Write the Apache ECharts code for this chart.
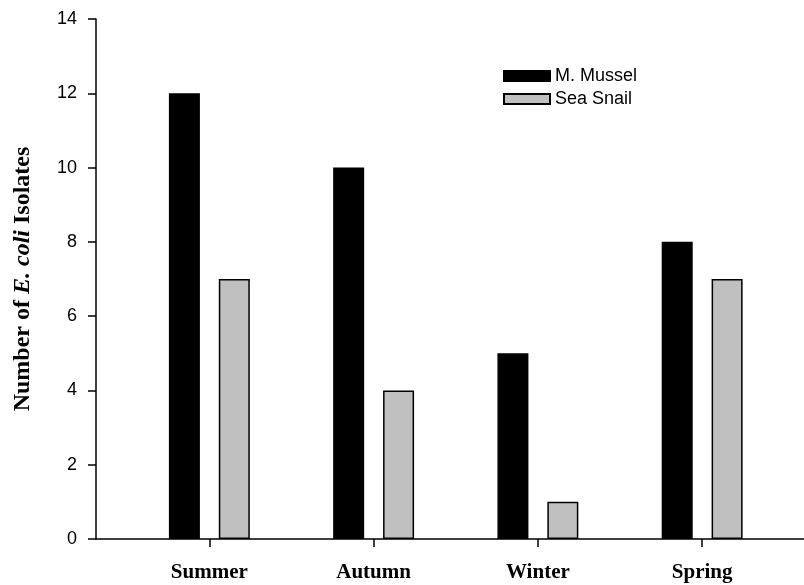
<!DOCTYPE html>
<html>
<head>
<meta charset="utf-8">
<script src="https://cdn.jsdelivr.net/npm/echarts@6/dist/echarts.min.js"></script>
<style>html,body{margin:0;padding:0;background:#fff}#c{width:804px;height:585px}</style>
</head>
<body>
<div id="c"></div>
<script>
const categories = ['Summer', 'Autumn', 'Winter', 'Spring'];
const categoryPositions = [1, 2, 3, 4];
const musselValues = [12, 10, 5, 8];
const snailValues = [7, 4, 1, 7];
const yTicks = [0, 2, 4, 6, 8, 10, 12, 14];

const chart = echarts.init(document.getElementById('c'), null, {renderer: 'canvas'});
const option = {
  backgroundColor: '#fff',
  animation: false,
  grid: {left: 96, top: 19, right: 0, bottom: 46, containLabel: false},
  legend: {
    orient: 'vertical',
    left: 498, top: 62,
    itemWidth: 46, itemHeight: 10, itemGap: 5,
    icon: 'rect',
    textStyle: {fontFamily: 'Liberation Sans, Arial', fontSize: 18, color: '#000', lineHeight: 18},
    data: ['M. Mussel', 'Sea Snail']
  },
  xAxis: {
    type: 'value',
    min: 0.31, max: 4.62,
    splitLine: {show: false},
    axisLine: {show: true, onZero: false, lineStyle: {color: '#000', width: 1.5}},
    axisTick: {show: true, customValues: categoryPositions, length: 8, inside: false, lineStyle: {color: '#000', width: 1.5}},
    axisLabel: {
      customValues: categoryPositions,
      formatter: v => categories[categoryPositions.indexOf(v)] || '',
      fontFamily: 'Liberation Serif, Times New Roman', fontWeight: 'bold', fontSize: 21, color: '#000', margin: 23
    }
  },
  yAxis: {
    type: 'value', min: 0, max: 14, interval: 2,
    splitLine: {show: false},
    axisLine: {show: true, lineStyle: {color: '#000', width: 1.5}},
    axisTick: {show: true, length: 8, lineStyle: {color: '#000', width: 1.5}},
    axisLabel: {fontFamily: 'Liberation Sans, Arial', fontSize: 18, color: '#000', margin: 19,
      formatter: v => yTicks.includes(v) ? String(v) : ''},
    name: '{b|Number of }{i|E. coli}{b| Isolates}',
    nameLocation: 'middle', nameGap: 61, nameRotate: 90,
    nameTextStyle: {
      rich: {
        b: {fontFamily: 'Liberation Serif, Times New Roman', fontWeight: 'bold', fontSize: 24, color: '#000'},
        i: {fontFamily: 'Liberation Serif, Times New Roman', fontWeight: 'bold', fontStyle: 'italic', fontSize: 24, color: '#000'}
      }
    }
  },
  series: [
    {
      name: 'M. Mussel', type: 'bar', barWidth: 31, barGap: '61%',
      itemStyle: {color: '#000', borderColor: '#000', borderWidth: 1.5},
      data: categoryPositions.map((x, i) => [x, musselValues[i]])
    },
    {
      name: 'Sea Snail', type: 'bar', barWidth: 31, barGap: '61%',
      itemStyle: {color: '#c0c0c0', borderColor: '#000', borderWidth: 1.5},
      data: categoryPositions.map((x, i) => [x, snailValues[i]])
    }
  ]
};
chart.setOption(option);
</script>
</body>
</html>
